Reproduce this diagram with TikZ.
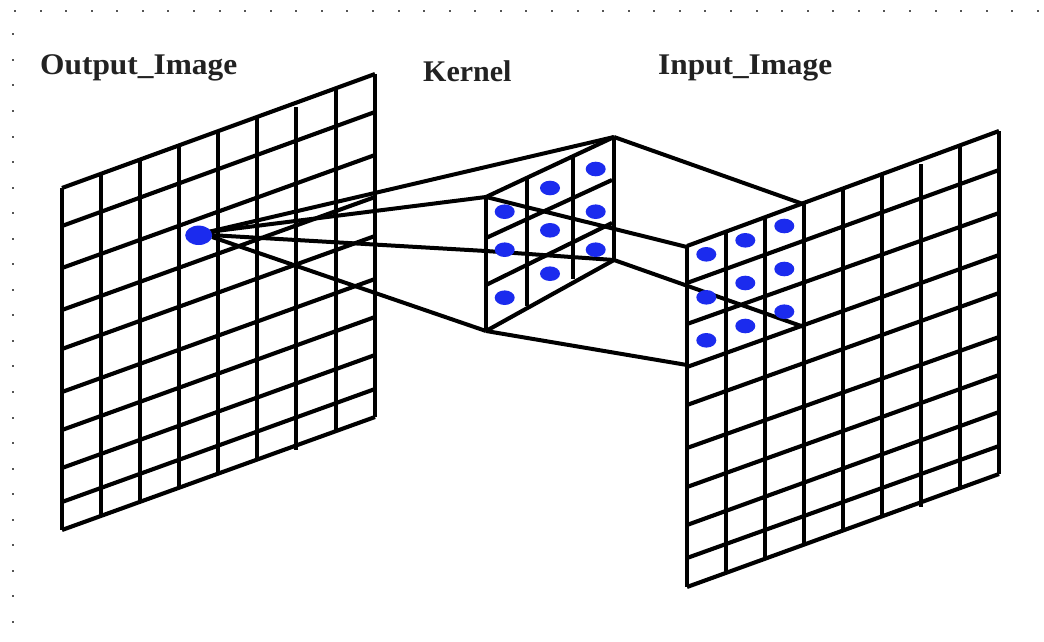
\documentclass[tikz,border=0pt]{standalone}
\usepackage{fontspec}
\setmainfont{Liberation Serif}
\usetikzlibrary{shapes.geometric}
\definecolor{dotblue}{HTML}{1B2BEE}
\definecolor{titleink}{HTML}{222222}
\definecolor{specks}{HTML}{555555}
\tikzset{
  gridline/.style={line width=4.1pt,black},
  gridpost/.style={line width=4.6pt,black},
  wire/.style={line width=4pt,black},
  bluedot/.style={fill=dotblue,draw=none,ellipse,minimum width=20pt,minimum height=14.6pt,inner sep=0pt},
  sourcedot/.style={fill=dotblue,draw=none,ellipse,minimum width=27pt,minimum height=19.4pt,inner sep=0pt},
  heading/.style={font=\fontsize{30}{33}\selectfont\bfseries,text=titleink,inner sep=0pt,anchor=base west},
}
\begin{document}
\begin{tikzpicture}[x=1pt,y=-1pt]
\useasboundingbox (0,0) rectangle (1044,642);
\fill[white] (0,0) rectangle (1044,642);
% speckled margin
\foreach \i in {0,...,40} {
  \pgfmathsetmacro\px{round(15+25.57*\i)}
  \fill[specks] (\px-1,10) rectangle ++(2,2);
}
\foreach \i in {0,...,23} {
  \pgfmathsetmacro\py{round(34.3+25.55*\i)}
  \fill[specks] (12,\py-1) rectangle ++(2,2);
}
% left grid
\foreach \a/\b in {188/74,226/112,268/155,310/197,349/236,392/279,430/317,468/355,502/389,530/417}
  \draw[gridline] (62,\a) -- (375,\b);
\foreach \x in {62,101,140,179,218,257,336,375} {
  \pgfmathsetmacro\ta{188-(\x-62)*0.36422}
  \pgfmathsetmacro\tb{530-(\x-62)*0.36102}
  \draw[gridpost] (\x,\ta) -- (\x,\tb);
}
\draw[gridpost] (296,107) -- (296,450);
% right grid
\foreach \a/\b in {246/131,283/170,324/213,367/255,405/293,448/337,487/375,525/412,558/446,587/474}
  \draw[gridline] (687,\a) -- (999,\b);
\foreach \x in {687,726,765,804,843,882,960,999} {
  \pgfmathsetmacro\ta{246-(\x-687)*0.36859}
  \pgfmathsetmacro\tb{587-(\x-687)*0.36218}
  \draw[gridpost] (\x,\ta) -- (\x,\tb);
}
\draw[gridpost] (921,164) -- (921,507);
% kernel frame corners
\coordinate (ktl) at (486,197);
\coordinate (ktr) at (614,137);
\coordinate (kbl) at (486,331);
\coordinate (kbr) at (614,260);
\coordinate (kml) at (486,251);
\coordinate (ittl) at (687,247);
\coordinate (ittr) at (803,204);
\coordinate (ibl) at (687,365);
\coordinate (ibr) at (804,327);
\coordinate (srct) at (208,232);
\coordinate (srcm) at (210,235);
\coordinate (srcb) at (212,237);
% kernel
\draw[gridline] (ktl) -- (ktr);
\draw[gridline] (486,238) -- (612,180);
\draw[gridline] (486,285) -- (612,223);
\draw[gridline] (kbl) -- (kbr);
\draw[gridpost] (ktl) -- (kbl);
\draw[gridpost] (527,178) -- (527,306);
\draw[gridpost] (573,157) -- (573,279);
\draw[gridpost] (ktr) -- (kbr);
% connectors
\draw[wire] (srct) -- (ktr);
\draw[wire] (srct) -- (ktl);
\draw[wire] (srcm) -- (kml) -- (kbr);
\draw[wire] (srcb) -- (kbl);
\draw[wire] (ktr) -- (ittr);
\draw[wire] (ktl) -- (ittl);
\draw[wire] (kbl) -- (ibl);
\draw[wire] (kbr) -- (ibr);
% dots
\node[sourcedot] (od) at (198.7,235.3) {};
\foreach \n/\x/\y in {k1/504.7/211.7,k2/504.7/249.7,k3/504.7/297.7,k4/550/188,k5/550/230.3,k6/550/273.7,k7/595.7/169,k8/595.7/211.7,k9/595.7/249.7,
  i1/706.3/254.3,i2/706.3/297.3,i3/706.3/340.3,i4/745.3/240.3,i5/745.3/283,i6/745.3/326,i7/784.3/226,i8/784.3/269,i9/784.3/311.7}
  \node[bluedot] (\n) at (\x,\y) {};
% titles
\node[heading] (tout) at (40,74.5) {\scalebox{1.046}[1]{Output\_Image}};
\node[heading] (tker) at (423,81.5) {Kernel};
\node[heading] (tinp) at (658,74.5) {\scalebox{1.044}[1]{Input\_Image}};
\end{tikzpicture}
\end{document}
